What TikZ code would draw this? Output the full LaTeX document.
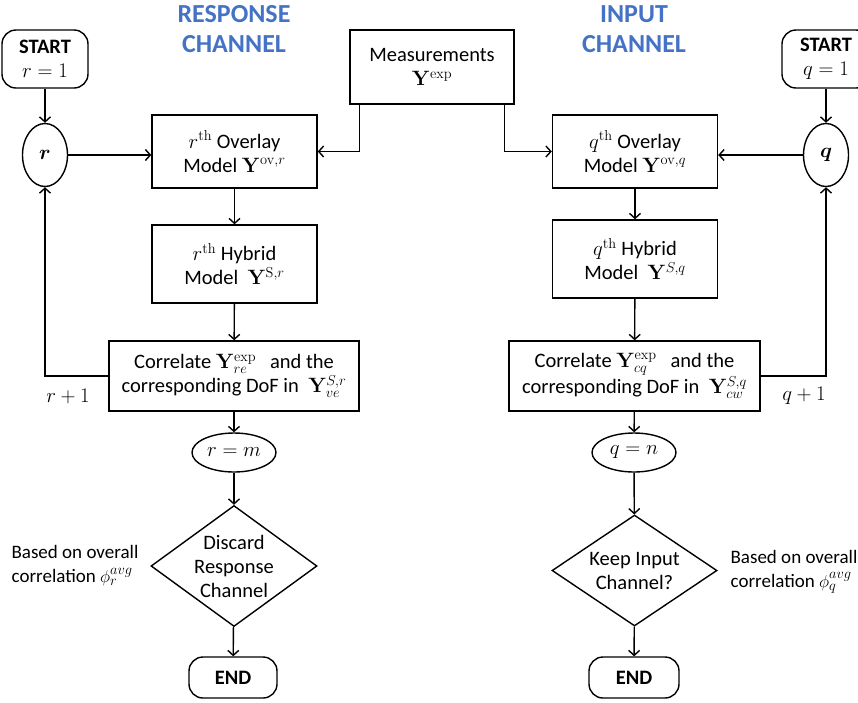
\documentclass[tikz,border=0pt]{standalone}
\usepackage{amsmath,bm}
\usepackage[no-math]{fontspec}
\setmainfont{Carlito}
\usetikzlibrary{shapes.geometric,arrows.meta}
\definecolor{titleblue}{HTML}{4472C4}
\begin{document}
\begin{tikzpicture}[x=1pt,y=-1pt,
  every node/.style={font=\fontsize{20.5}{24}\selectfont, align=center, inner sep=0pt},
  box/.style={draw, line width=1.4pt, rectangle},
  term/.style={draw, line width=1.4pt, rectangle, rounded corners=14pt},
  oval/.style={draw, line width=1.4pt, ellipse},
  dia/.style={draw, line width=1.4pt, diamond},
  arr/.style={line width=1.4pt, -{Straight Barb[length=5pt,width=11pt]}},
  side/.style={align=left, font=\fontsize{19}{24}\selectfont},
  title/.style={font=\fontsize{26}{30}\selectfont\bfseries, text=titleblue}]
\useasboundingbox (0,0) rectangle (858,702);

% titles
\node[title] (tr) at (234,29) {RESPONSE\\CHANNEL};
\node[title] (ti) at (634,29) {INPUT\\CHANNEL};

% measurements
\node[box, minimum width=164pt, minimum height=74pt] (me) at (432,67) {Measurements\\$\mathbf{Y}^{\mathrm{exp}}$};

% response channel
\node[term, minimum width=86pt, minimum height=58pt] (sr) at (45,59) {\textbf{START}\\$r=1$};
\node[oval, minimum width=45pt, minimum height=63pt] (rn) at (45,155) {$\bm{r}$};
\node[box, minimum width=165pt, minimum height=73pt] (ovr) at (234.5,151.5) {$r^{\mathrm{th}}$ Overlay\\Model $\mathbf{Y}^{\mathrm{ov},r}$};
\node[box, minimum width=165pt, minimum height=78pt] (hyr) at (234.5,264) {$r^{\mathrm{th}}$ Hybrid\\Model\ \ $\mathbf{Y}^{\mathrm{S},r}$};
\node[box, minimum width=250pt, minimum height=70pt] (cor) at (234,376) {Correlate $\mathbf{Y}^{\mathrm{exp}}_{re}$\ \ \ and the\\corresponding\ DoF in\ \ $\mathbf{Y}^{S,r}_{ve}$};
\node[oval, minimum width=84pt, minimum height=39pt] (eqr) at (234,452.5) {$r=m$};
\node[dia, minimum width=166pt, minimum height=121pt, label=center:{Discard\\Response\\Channel}] (dr) at (234,566) {};
\node[term, minimum width=88pt, minimum height=41pt] (er) at (233,677.5) {\textbf{END}};
\node[side] (br) at (75,566) {Based on overall\\correlation $\phi_r^{avg}$};
\node (rp) at (68,396) {$r+1$};

% input channel
\node[term, minimum width=88pt, minimum height=58pt] (sq) at (826,59) {\textbf{START}\\$q=1$};
\node[oval, minimum width=45pt, minimum height=63pt] (qn) at (826,155) {$\bm{q}$};
\node[box, minimum width=165pt, minimum height=73pt] (ovq) at (635,151.5) {$q^{\mathrm{th}}$ Overlay\\Model $\mathbf{Y}^{\mathrm{ov},q}$};
\node[box, minimum width=165pt, minimum height=78pt] (hyq) at (635,259) {$q^{\mathrm{th}}$ Hybrid\\Model\ \ $\mathbf{Y}^{S,q}$};
\node[box, minimum width=251pt, minimum height=70pt] (coq) at (634.5,376) {Correlate $\mathbf{Y}^{\mathrm{exp}}_{cq}$\ \ \ and the\\corresponding\ DoF in\ \ $\mathbf{Y}^{S,q}_{cw}$};
\node[oval, minimum width=84pt, minimum height=39pt] (eqq) at (634,452.5) {$q=n$};
\node[dia, minimum width=165pt, minimum height=111pt, label=center:{Keep Input\\Channel?}] (dq) at (634.5,570.5) {};
\node[term, minimum width=90pt, minimum height=41pt] (eq) at (634,677.5) {\textbf{END}};
\node[side] (bq) at (794,572) {Based on overall\\correlation $\phi_q^{avg}$};
\node (qp) at (804,396) {$q+1$};

% connectors response
\draw[arr] (sr) -- (rn);
\draw[arr] (rn.east) -- (rn.east -| ovr.west);
\draw[arr] ([xshift=10pt]me.south west) |- (ovr.east);
\draw[arr] (ovr) -- (hyr);
\draw[arr] (hyr) -- (cor);
\draw[arr] (cor) -- (eqr);
\draw[arr] (eqr) -- (dr);
\draw[arr] (dr) -- (er);
\draw[arr] (cor.west) -| (rn.south);

% connectors input
\draw[arr] (sq) -- (qn);
\draw[arr] (qn.west) -- (qn.west -| ovq.east);
\draw[arr] ([xshift=-10pt]me.south east) |- (ovq.west);
\draw[arr] (ovq) -- (hyq);
\draw[arr] (hyq) -- (coq);
\draw[arr] (coq) -- (eqq);
\draw[arr] (eqq) -- (dq);
\draw[arr] (dq) -- (eq);
\draw[arr] (coq.east) -| (qn.south);
\end{tikzpicture}
\end{document}
